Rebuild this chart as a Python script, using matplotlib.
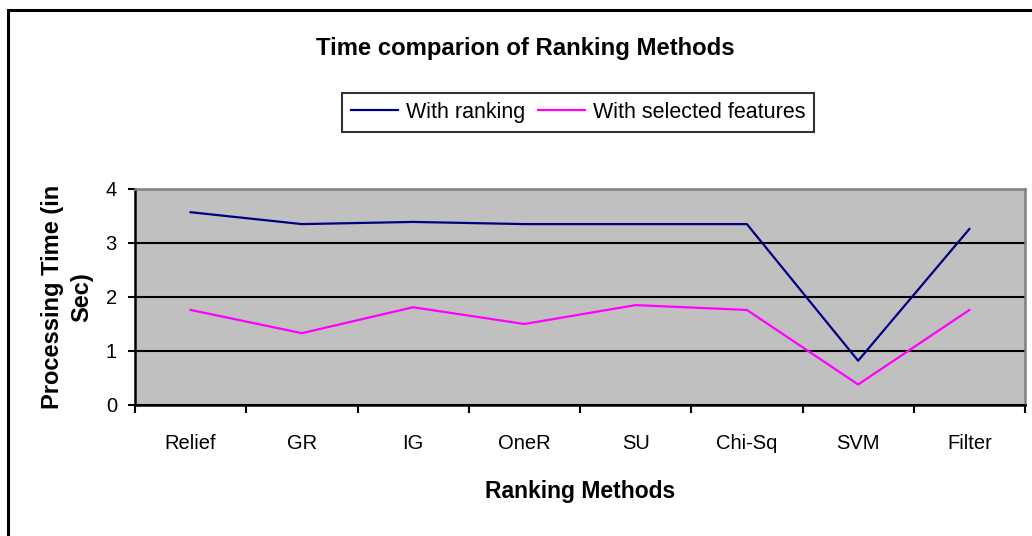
import matplotlib

matplotlib.use("Agg")

import matplotlib.pyplot as plt
from matplotlib.patches import Rectangle

plt.rcParams["font.family"] = ["Liberation Sans", "DejaVu Sans"]

methods = ["Relief", "GR", "IG", "OneR", "SU", "Chi-Sq", "SVM", "Filter"]
with_ranking = [3.57, 3.35, 3.39, 3.35, 3.35, 3.35, 0.82, 3.26]
with_selected = [1.76, 1.33, 1.81, 1.50, 1.85, 1.76, 0.38, 1.76]

W, H = 1032, 536
fig = plt.figure(figsize=(W / 100, H / 100), dpi=100)

# outer chart frame (runs off the right and bottom edge)
fig.patches.append(
    Rectangle((8 / W, -0.1), 1.2, 1 - 10 / H + 0.1, transform=fig.transFigure,
              fill=False, edgecolor="black", linewidth=2.2)
)

ax = fig.add_axes([135 / W, (H - 405) / H, 890 / W, 216 / H])
ax.set_facecolor("#c0c0c0")

xs = [i + 0.5 for i in range(len(methods))]
ax.plot(xs, with_ranking, color="#000080", linewidth=1.6, label="With ranking")
ax.plot(xs, with_selected, color="#ff00ff", linewidth=1.6, label="With selected features")

ax.set_xlim(0, len(methods))
ax.set_ylim(0, 4)
ax.set_yticks(range(5))
ax.yaxis.grid(True, color="black", linewidth=1.5)
ax.set_axisbelow(True)

ax.set_xticks(range(len(methods) + 1))
ax.set_xticklabels([])
ax.set_xticks(xs, minor=True)
ax.set_xticklabels(methods, minor=True)
ax.tick_params(axis="x", which="major", length=6, width=1.5, direction="out")
ax.tick_params(axis="x", which="minor", length=0, pad=21, labelsize=14.5)
ax.tick_params(axis="y", length=5, width=1.5, pad=8, labelsize=14.5)

for side in ("left", "bottom"):
    ax.spines[side].set_linewidth(1.8)
    ax.spines[side].set_color("black")
for side in ("top", "right"):
    ax.spines[side].set_linewidth(1.8)
    ax.spines[side].set_color("#808080")

ax.set_xlabel("Ranking Methods", fontsize=16.5, fontweight="bold", labelpad=19)
fig.text(67 / W, 1 - 297 / H, "Processing Time (in\nSec)", rotation=90,
         ha="center", va="center", fontsize=17, fontweight="bold",
         multialignment="center", linespacing=1.35)

fig.text(525 / W, 1 - 48 / H, "Time comparion of Ranking Methods",
         ha="center", va="center", fontsize=17.2, fontweight="bold")

leg = fig.legend(loc="center", bbox_to_anchor=(578 / W, 1 - 112.5 / H), ncol=2,
                 fontsize=15.5, frameon=True, fancybox=False, handlelength=2.2,
                 handletextpad=0.35, columnspacing=0.6, borderpad=0.4,
                 borderaxespad=0)
leg.get_frame().set_edgecolor("black")
leg.get_frame().set_linewidth(1.5)

fig.savefig("out.png", dpi=100)
